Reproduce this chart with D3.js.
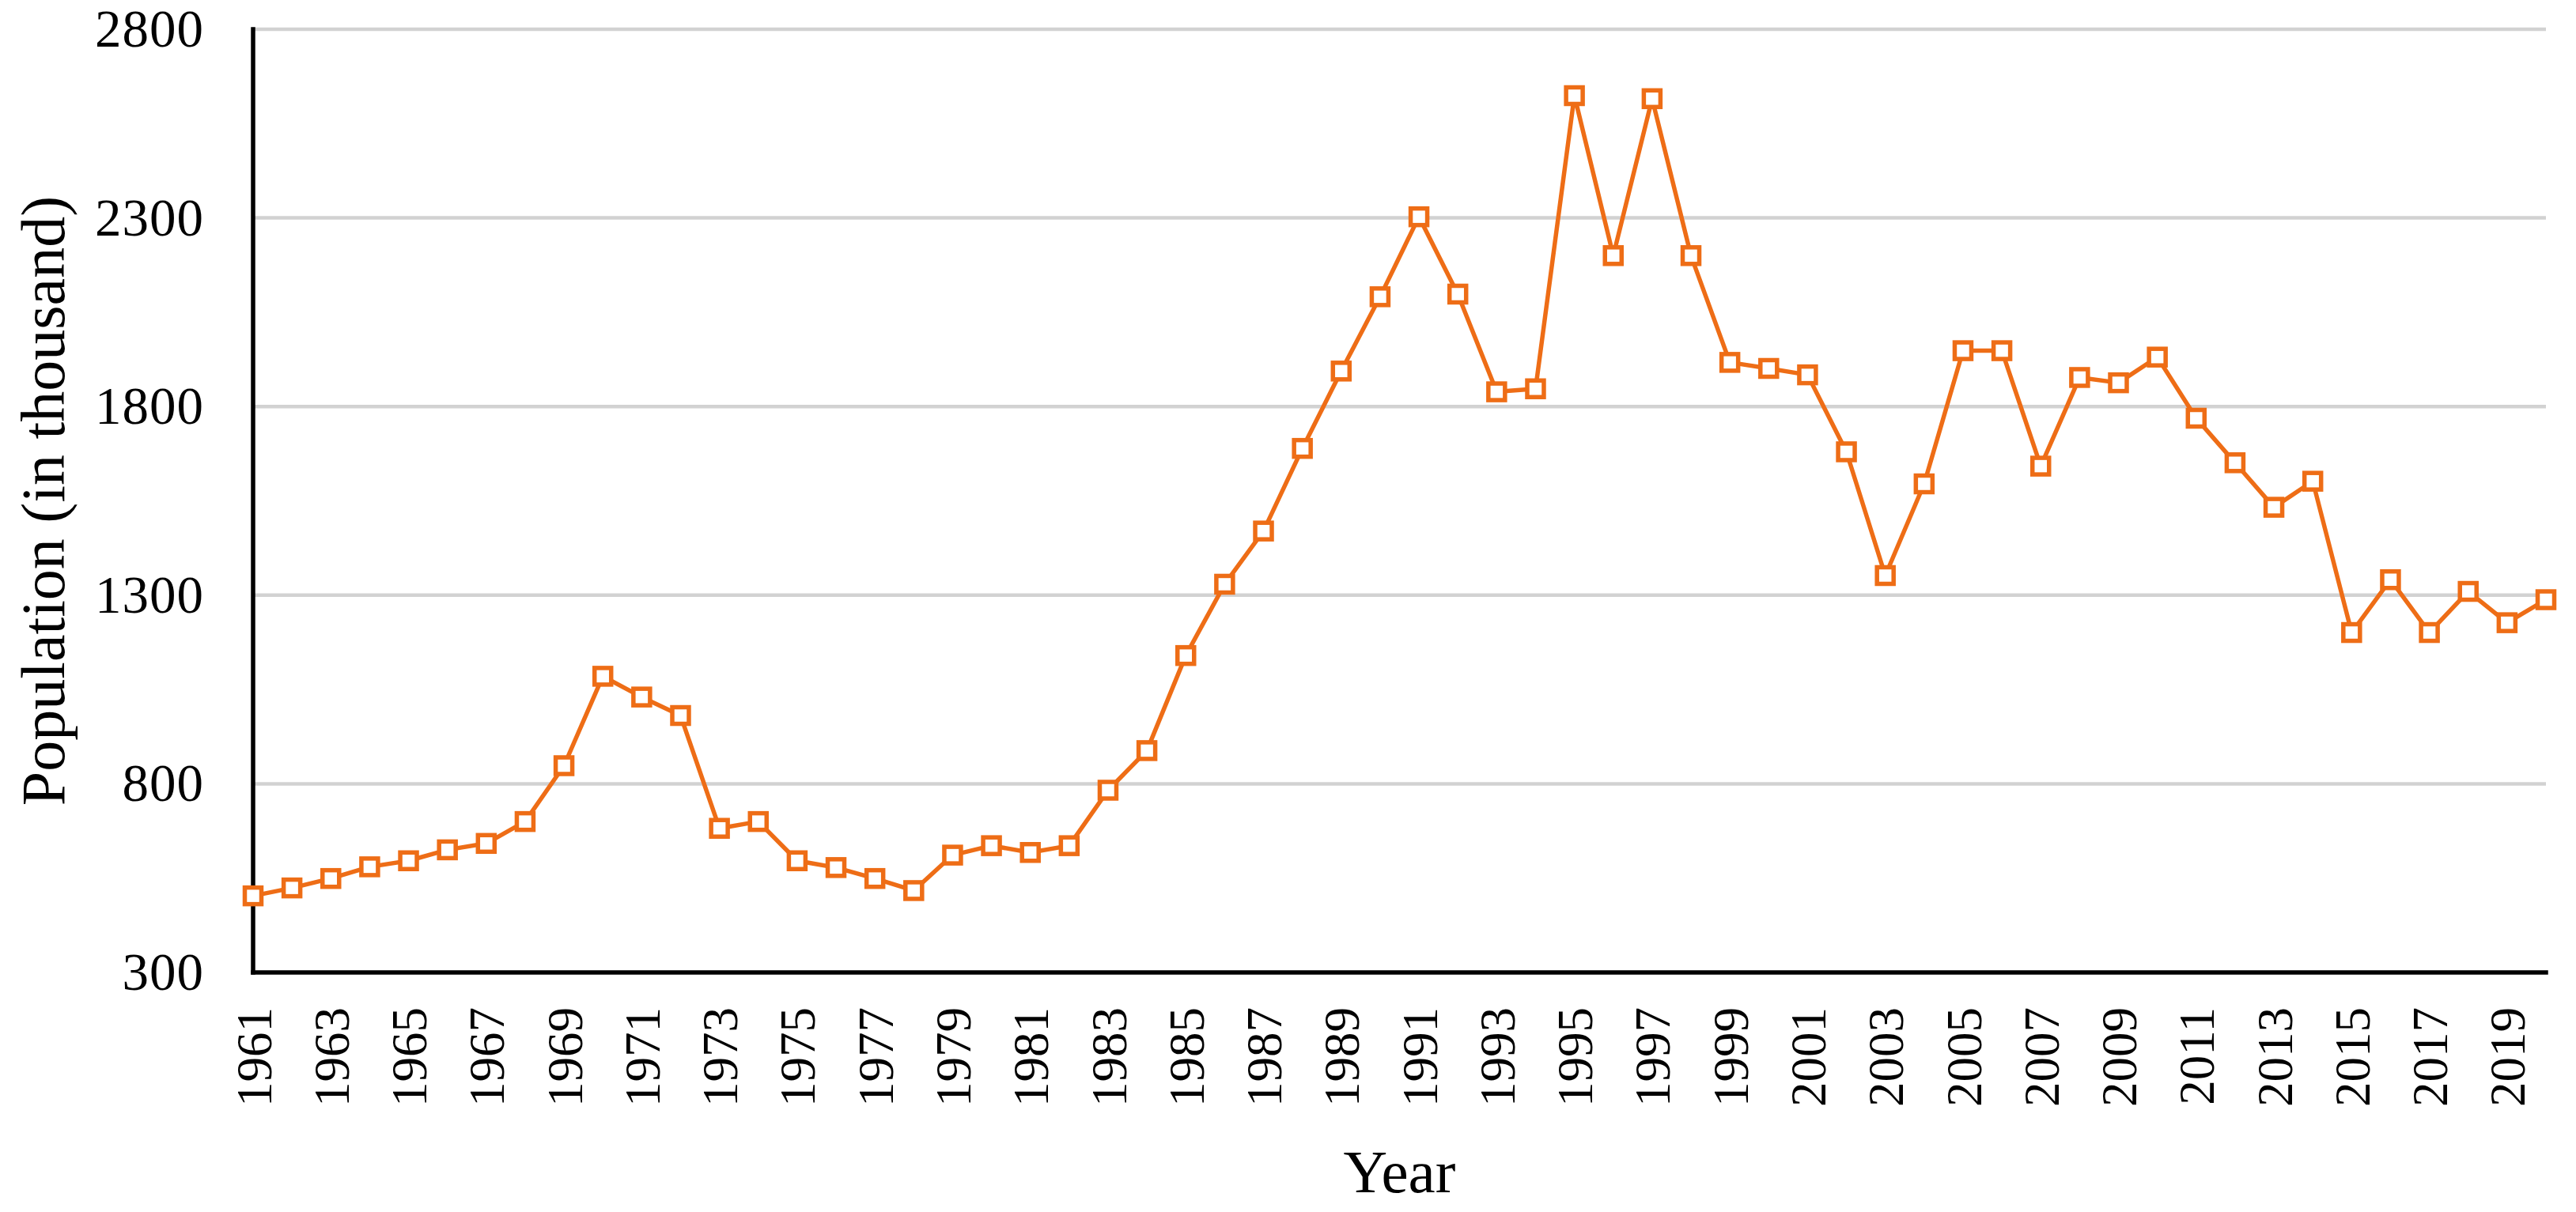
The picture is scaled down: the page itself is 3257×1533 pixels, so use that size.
<!DOCTYPE html>
<html>
<head>
<meta charset="utf-8">
<script src="https://cdn.jsdelivr.net/npm/d3@7"></script>
<style>
  html, body { margin: 0; padding: 0; background: #fff; }
  svg { display: block; }
</style>
</head>
<body>
<svg id="chart" width="3257" height="1533"></svg>
<script>
const years = d3.range(1961, 2021);
const population = [
  503, 524, 549, 580, 596, 625, 642, 700, 848, 1085,
  1030, 981, 682, 700, 596, 578, 549, 517, 611, 636,
  618, 636, 783, 888, 1140, 1329, 1470, 1689, 1894, 2091,
  2303, 2098, 1839, 1847, 2624, 2200, 2616, 2200, 1917, 1901,
  1884, 1680, 1352, 1595, 1948, 1948, 1642, 1877, 1863, 1931,
  1769, 1651, 1533, 1602, 1201, 1341, 1201, 1310, 1227, 1288
];
const yTicks = [300, 800, 1300, 1800, 2300, 2800];
const xTickLabels = years.filter(y => (y - 1961) % 2 === 0);
const xTitle = "Year";
const yTitle = "Population (in thousand)";

(function () {
  const data = years.map((yr, i) => ({ year: yr, value: population[i] }));

  const svg = d3.select("#chart");
  svg.append("rect").attr("width", 3257).attr("height", 1533).attr("fill", "#fff");

  const pL = 320, pR = 3219, pT = 37, pB = 1230;
  const x = d3.scalePoint().domain(years).range([pL, pR]);
  const y = d3.scaleLinear().domain([300, 2800]).range([pB, pT]);

  const font = "'Liberation Serif', 'Times New Roman', serif";

  // gridlines
  svg.append("g")
    .selectAll("line")
    .data(yTicks.filter(t => t !== 300))
    .join("line")
    .attr("x1", pL).attr("x2", pR)
    .attr("y1", d => y(d)).attr("y2", d => y(d))
    .attr("stroke", "#d2d2d2").attr("stroke-width", 4.5);

  // y axis
  const yAxis = svg.append("g")
    .attr("transform", `translate(${pL},0)`)
    .call(d3.axisLeft(y).tickValues(yTicks).tickSize(0).tickPadding(62).tickFormat(d3.format("d")));
  yAxis.select(".domain").remove();
  yAxis.selectAll("text")
    .attr("font-family", font).attr("font-size", 67).attr("fill", "#000")
    .attr("letter-spacing", 1);

  // x axis
  const xAxis = svg.append("g")
    .attr("transform", `translate(0,${pB})`)
    .call(d3.axisBottom(x).tickValues(xTickLabels).tickSize(0).tickFormat(d3.format("d")));
  xAxis.select(".domain").remove();
  xAxis.selectAll("text")
    .attr("font-family", font).attr("font-size", 63).attr("fill", "#000")
    .attr("text-anchor", "end")
    .attr("transform", "rotate(-90)")
    .attr("x", -44).attr("y", 0).attr("dy", "0.35em");

  // axis lines
  svg.append("line")
    .attr("x1", pL).attr("x2", pL).attr("y1", pT).attr("y2", pB)
    .attr("stroke", "#000").attr("stroke-width", 5.5).attr("stroke-linecap", "square");
  svg.append("line")
    .attr("x1", pL).attr("x2", pR).attr("y1", pB).attr("y2", pB)
    .attr("stroke", "#000").attr("stroke-width", 5.5).attr("stroke-linecap", "square");

  // line
  const orange = "#EE6D16";
  svg.append("path")
    .datum(data)
    .attr("fill", "none")
    .attr("stroke", orange)
    .attr("stroke-width", 5.5)
    .attr("stroke-linejoin", "round")
    .attr("d", d3.line().x(d => x(d.year)).y(d => y(d.value)));

  // markers
  const ms = 21;
  svg.append("g")
    .selectAll("rect")
    .data(data)
    .join("rect")
    .attr("x", d => x(d.year) - ms / 2)
    .attr("y", d => y(d.value) - ms / 2)
    .attr("width", ms).attr("height", ms)
    .attr("fill", "#fff")
    .attr("stroke", orange)
    .attr("stroke-width", 5.5);

  // titles
  svg.append("text")
    .attr("x", (pL + pR) / 2).attr("y", 1508)
    .attr("text-anchor", "middle")
    .attr("font-family", font).attr("font-size", 77).attr("fill", "#000")
    .text(xTitle);

  svg.append("text")
    .attr("transform", `translate(81,${(pT + pB) / 2}) rotate(-90)`)
    .attr("text-anchor", "middle")
    .attr("font-family", font).attr("font-size", 78).attr("fill", "#000")
    .text(yTitle);
})();
</script>
</body>
</html>
